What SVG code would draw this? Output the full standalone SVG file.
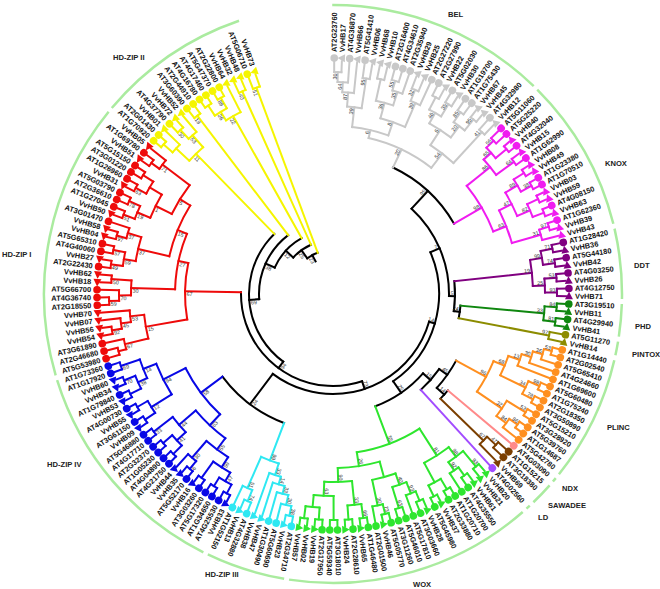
<svg xmlns="http://www.w3.org/2000/svg" width="660" height="589" viewBox="0 0 660 589">
<style>
.l{font:bold 7.4px "Liberation Sans",Arial,sans-serif;fill:#111;dominant-baseline:central}
.f{text-anchor:end}
.bs{font:5.4px "Liberation Sans",Arial,sans-serif;fill:#333;text-anchor:end;dominant-baseline:central}
.bs.r{text-anchor:start}
.gl{font:bold 7.6px "Liberation Sans",Arial,sans-serif;fill:#222}
#connectors{fill:none;stroke-width:2;stroke-linecap:square}
.oa{fill:none;stroke:#aaeb9f;stroke-width:2.5}
.gy{fill:#c8c8c8}.mg{fill:#f01cf0}.pu{fill:#800080}.dg{fill:#0f870f}.ol{fill:#8c8c00}.or{fill:#ff8f1f}.pk{fill:#ff8a8a}.br{fill:#7b3f00}.lv{fill:#a24cff}.gr{fill:#2ee62e}.cy{fill:#2ee8f2}.bl{fill:#0808e6}.rd{fill:#ee0a0a}.ye{fill:#f5f500}
</style>
<defs><circle id="c" r="3.8"/><path id="t" d="M0-4.4L4 3H-4Z"/></defs>
<rect width="660" height="589" fill="#fff"/>
<g id="clade-arcs" transform="translate(333 294)">
<circle class="oa" pathLength="360" r="289" stroke-dasharray="44.14 720" transform="rotate(-90.15)"/>
<circle class="oa" pathLength="360" r="289" stroke-dasharray="30.98 720" transform="rotate(-45.03)"/>
<circle class="oa" pathLength="360" r="289" stroke-dasharray="14.06 720" transform="rotate(-13.07)"/>
<circle class="oa" pathLength="360" r="289" stroke-dasharray="6.54 720" transform="rotate(1.97)"/>
<circle class="oa" pathLength="360" r="289" stroke-dasharray="2.78 720" transform="rotate(9.49)"/>
<circle class="oa" pathLength="360" r="289" stroke-dasharray="25.34 720" transform="rotate(13.25)"/>
<circle class="oa" pathLength="360" r="289" stroke-dasharray="0.9 720" transform="rotate(39.57)"/>
<circle class="oa" pathLength="360" r="289" stroke-dasharray="4.66 720" transform="rotate(41.45)"/>
<circle class="oa" pathLength="360" r="289" stroke-dasharray="0.9 720" transform="rotate(47.09)"/>
<circle class="oa" pathLength="360" r="289" stroke-dasharray="49.78 720" transform="rotate(48.97)"/>
<circle class="oa" pathLength="360" r="289" stroke-dasharray="15.94 720" transform="rotate(99.73)"/>
<circle class="oa" pathLength="360" r="289" stroke-dasharray="46.02 720" transform="rotate(116.65)"/>
<circle class="oa" pathLength="360" r="289" stroke-dasharray="55.42 720" transform="rotate(163.65)"/>
<circle class="oa" pathLength="360" r="289" stroke-dasharray="30.98 720" transform="rotate(220.05)"/>
</g>
<g id="clade-labels">
<text class="gl" x="448" y="17">BEL</text>
<text class="gl" x="605" y="166">KNOX</text>
<text class="gl" x="634" y="268">DDT</text>
<text class="gl" x="635" y="329">PHD</text>
<text class="gl" x="632" y="357">PINTOX</text>
<text class="gl" x="607" y="430">PLINC</text>
<text class="gl" x="562" y="491">NDX</text>
<text class="gl" x="548" y="508">SAWADEE</text>
<text class="gl" x="538" y="520">LD</text>
<text class="gl" x="413" y="587">WOX</text>
<text class="gl" x="205" y="577">HD-ZIP III</text>
<text class="gl" x="47" y="467">HD-ZIP IV</text>
<text class="gl" x="2" y="257">HD-ZIP I</text>
<text class="gl" x="113" y="60">HD-ZIP II</text>
</g>
<g id="connectors" transform="translate(333 294)">
<g stroke="#000">
<circle pathLength="360" r="140" stroke-dasharray="34.48 720" transform="rotate(-64.61)"/>
<circle pathLength="360" r="128" stroke-dasharray="5.64 720" transform="rotate(5.24)"/>
<circle pathLength="360" r="122" stroke-dasharray="14.10 720" transform="rotate(-6.04)"/>
<path transform="rotate(8.06)" d="M122 0H128"/>
<circle pathLength="360" r="116" stroke-dasharray="48.38 720" transform="rotate(-47.37)"/>
<path transform="rotate(-47.37)" d="M116 0H140"/>
<path transform="rotate(1.01)" d="M116 0H122"/>
<circle pathLength="360" r="150" stroke-dasharray="4.23 720" transform="rotate(40.02)"/>
<circle pathLength="360" r="140" stroke-dasharray="13.715 720" transform="rotate(28.42)"/>
<path transform="rotate(42.135)" d="M140 0H150"/>
<circle pathLength="360" r="130" stroke-dasharray="12.26 720" transform="rotate(35.28)"/>
<path transform="rotate(35.28)" d="M130 0H140"/>
<circle pathLength="360" r="120" stroke-dasharray="27.96 720" transform="rotate(41.41)"/>
<path transform="rotate(41.41)" d="M120 0H130"/>
<circle pathLength="360" r="106" stroke-dasharray="78.57 720" transform="rotate(-23.18)"/>
<path transform="rotate(-23.18)" d="M106 0H116"/>
<path transform="rotate(55.39)" d="M106 0H120"/>
<circle pathLength="360" r="138" stroke-dasharray="32.46 720" transform="rotate(110.78)"/>
<circle pathLength="360" r="100" stroke-dasharray="110.91 720" transform="rotate(16.10)"/>
<path transform="rotate(16.10)" d="M100 0H106"/>
<path transform="rotate(127.01)" d="M100 0H138"/>
<circle pathLength="360" r="92" stroke-dasharray="109.52 720" transform="rotate(71.56)"/>
<path transform="rotate(71.56)" d="M92 0H100"/>
<circle pathLength="360" r="84" stroke-dasharray="99.35 720" transform="rotate(126.32)"/>
<path transform="rotate(126.32)" d="M84 0H92"/>
<circle pathLength="360" r="74" stroke-dasharray="56.72 720" transform="rotate(176.0)"/>
<path transform="rotate(176.0)" d="M74 0H84"/>
<circle pathLength="360" r="64" stroke-dasharray="36.35 720" transform="rotate(204.36)"/>
<path transform="rotate(204.36)" d="M64 0H74"/>
<circle pathLength="360" r="54" stroke-dasharray="23.345 720" transform="rotate(222.535)"/>
<path transform="rotate(222.535)" d="M54 0H64"/>
<circle pathLength="360" r="44" stroke-dasharray="15.43 720" transform="rotate(234.21)"/>
<path transform="rotate(234.21)" d="M44 0H54"/>
<path transform="rotate(241.925)" d="M37 0H44"/>
</g>
<g stroke="#c8c8c8">
<circle pathLength="360" r="222" stroke-dasharray="1.88 720" transform="rotate(-89.70)"/>
<circle pathLength="360" r="212" stroke-dasharray="2.82 720" transform="rotate(-88.76)"/>
<circle pathLength="360" r="202" stroke-dasharray="3.29 720" transform="rotate(-87.35)"/>
<circle pathLength="360" r="218" stroke-dasharray="1.88 720" transform="rotate(-82.18)"/>
<circle pathLength="360" r="188" stroke-dasharray="4.465 720" transform="rotate(-85.705)"/>
<circle pathLength="360" r="220" stroke-dasharray="1.88 720" transform="rotate(-78.42)"/>
<circle pathLength="360" r="222" stroke-dasharray="1.88 720" transform="rotate(-74.66)"/>
<circle pathLength="360" r="212" stroke-dasharray="2.82 720" transform="rotate(-73.72)"/>
<circle pathLength="360" r="198" stroke-dasharray="5.17 720" transform="rotate(-77.48)"/>
<circle pathLength="360" r="220" stroke-dasharray="1.88 720" transform="rotate(-69.02)"/>
<circle pathLength="360" r="208" stroke-dasharray="2.82 720" transform="rotate(-68.08)"/>
<circle pathLength="360" r="182" stroke-dasharray="8.225 720" transform="rotate(-74.895)"/>
<circle pathLength="360" r="168" stroke-dasharray="12.69 720" transform="rotate(-83.4725)"/>
<circle pathLength="360" r="222" stroke-dasharray="1.88 720" transform="rotate(-63.38)"/>
<circle pathLength="360" r="222" stroke-dasharray="1.88 720" transform="rotate(-59.62)"/>
<circle pathLength="360" r="208" stroke-dasharray="3.76 720" transform="rotate(-62.44)"/>
<circle pathLength="360" r="222" stroke-dasharray="1.88 720" transform="rotate(-55.86)"/>
<circle pathLength="360" r="224" stroke-dasharray="1.88 720" transform="rotate(-52.10)"/>
<circle pathLength="360" r="210" stroke-dasharray="3.76 720" transform="rotate(-54.92)"/>
<circle pathLength="360" r="196" stroke-dasharray="7.52 720" transform="rotate(-60.56)"/>
<circle pathLength="360" r="220" stroke-dasharray="1.88 720" transform="rotate(-48.34)"/>
<circle pathLength="360" r="178" stroke-dasharray="9.40 720" transform="rotate(-56.80)"/>
<circle pathLength="360" r="160" stroke-dasharray="25.03 720" transform="rotate(-77.1275)"/>
<path transform="rotate(-89.70)" d="M222 0H233"/>
<path transform="rotate(-87.82)" d="M222 0H233"/>
<path transform="rotate(-88.76)" d="M212 0H222"/>
<path transform="rotate(-85.94)" d="M212 0H233"/>
<path transform="rotate(-87.35)" d="M202 0H212"/>
<path transform="rotate(-84.06)" d="M202 0H233"/>
<path transform="rotate(-82.18)" d="M218 0H233"/>
<path transform="rotate(-80.30)" d="M218 0H233"/>
<path transform="rotate(-85.705)" d="M188 0H202"/>
<path transform="rotate(-81.24)" d="M188 0H218"/>
<path transform="rotate(-78.42)" d="M220 0H233"/>
<path transform="rotate(-76.54)" d="M220 0H233"/>
<path transform="rotate(-74.66)" d="M222 0H233"/>
<path transform="rotate(-72.78)" d="M222 0H233"/>
<path transform="rotate(-73.72)" d="M212 0H222"/>
<path transform="rotate(-70.90)" d="M212 0H233"/>
<path transform="rotate(-77.48)" d="M198 0H220"/>
<path transform="rotate(-72.31)" d="M198 0H212"/>
<path transform="rotate(-69.02)" d="M220 0H233"/>
<path transform="rotate(-67.14)" d="M220 0H233"/>
<path transform="rotate(-68.08)" d="M208 0H220"/>
<path transform="rotate(-65.26)" d="M208 0H233"/>
<path transform="rotate(-74.895)" d="M182 0H198"/>
<path transform="rotate(-66.67)" d="M182 0H208"/>
<path transform="rotate(-83.4725)" d="M168 0H188"/>
<path transform="rotate(-70.7825)" d="M168 0H182"/>
<path transform="rotate(-63.38)" d="M222 0H233"/>
<path transform="rotate(-61.50)" d="M222 0H233"/>
<path transform="rotate(-59.62)" d="M222 0H233"/>
<path transform="rotate(-57.74)" d="M222 0H233"/>
<path transform="rotate(-62.44)" d="M208 0H222"/>
<path transform="rotate(-58.68)" d="M208 0H222"/>
<path transform="rotate(-55.86)" d="M222 0H233"/>
<path transform="rotate(-53.98)" d="M222 0H233"/>
<path transform="rotate(-52.10)" d="M224 0H233"/>
<path transform="rotate(-50.22)" d="M224 0H233"/>
<path transform="rotate(-54.92)" d="M210 0H222"/>
<path transform="rotate(-51.16)" d="M210 0H224"/>
<path transform="rotate(-60.56)" d="M196 0H208"/>
<path transform="rotate(-53.04)" d="M196 0H210"/>
<path transform="rotate(-48.34)" d="M220 0H233"/>
<path transform="rotate(-46.46)" d="M220 0H233"/>
<path transform="rotate(-56.80)" d="M178 0H196"/>
<path transform="rotate(-47.40)" d="M178 0H220"/>
<path transform="rotate(-77.1275)" d="M160 0H168"/>
<path transform="rotate(-52.10)" d="M160 0H178"/>
<path transform="rotate(-64.61)" d="M140 0H160"/>
</g>
<g stroke="#f01cf0">
<circle pathLength="360" r="222" stroke-dasharray="1.88 720" transform="rotate(-44.58)"/>
<circle pathLength="360" r="226" stroke-dasharray="1.88 720" transform="rotate(-40.82)"/>
<circle pathLength="360" r="212" stroke-dasharray="3.76 720" transform="rotate(-43.64)"/>
<circle pathLength="360" r="224" stroke-dasharray="1.88 720" transform="rotate(-37.06)"/>
<circle pathLength="360" r="202" stroke-dasharray="5.64 720" transform="rotate(-41.76)"/>
<circle pathLength="360" r="226" stroke-dasharray="1.88 720" transform="rotate(-33.30)"/>
<circle pathLength="360" r="226" stroke-dasharray="1.88 720" transform="rotate(-29.54)"/>
<circle pathLength="360" r="214" stroke-dasharray="3.76 720" transform="rotate(-32.36)"/>
<circle pathLength="360" r="226" stroke-dasharray="1.88 720" transform="rotate(-25.78)"/>
<circle pathLength="360" r="226" stroke-dasharray="1.88 720" transform="rotate(-22.02)"/>
<circle pathLength="360" r="214" stroke-dasharray="3.76 720" transform="rotate(-24.84)"/>
<circle pathLength="360" r="200" stroke-dasharray="7.52 720" transform="rotate(-30.48)"/>
<circle pathLength="360" r="226" stroke-dasharray="1.88 720" transform="rotate(-18.26)"/>
<circle pathLength="360" r="216" stroke-dasharray="2.82 720" transform="rotate(-17.32)"/>
<circle pathLength="360" r="186" stroke-dasharray="10.81 720" transform="rotate(-26.72)"/>
<circle pathLength="360" r="172" stroke-dasharray="17.625 720" transform="rotate(-38.94)"/>
<path transform="rotate(-44.58)" d="M222 0H233"/>
<path transform="rotate(-42.70)" d="M222 0H233"/>
<path transform="rotate(-40.82)" d="M226 0H233"/>
<path transform="rotate(-38.94)" d="M226 0H233"/>
<path transform="rotate(-43.64)" d="M212 0H222"/>
<path transform="rotate(-39.88)" d="M212 0H226"/>
<path transform="rotate(-37.06)" d="M224 0H233"/>
<path transform="rotate(-35.18)" d="M224 0H233"/>
<path transform="rotate(-41.76)" d="M202 0H212"/>
<path transform="rotate(-36.12)" d="M202 0H224"/>
<path transform="rotate(-33.30)" d="M226 0H233"/>
<path transform="rotate(-31.42)" d="M226 0H233"/>
<path transform="rotate(-29.54)" d="M226 0H233"/>
<path transform="rotate(-27.66)" d="M226 0H233"/>
<path transform="rotate(-32.36)" d="M214 0H226"/>
<path transform="rotate(-28.60)" d="M214 0H226"/>
<path transform="rotate(-25.78)" d="M226 0H233"/>
<path transform="rotate(-23.90)" d="M226 0H233"/>
<path transform="rotate(-22.02)" d="M226 0H233"/>
<path transform="rotate(-20.14)" d="M226 0H233"/>
<path transform="rotate(-24.84)" d="M214 0H226"/>
<path transform="rotate(-21.08)" d="M214 0H226"/>
<path transform="rotate(-30.48)" d="M200 0H214"/>
<path transform="rotate(-22.96)" d="M200 0H214"/>
<path transform="rotate(-18.26)" d="M226 0H233"/>
<path transform="rotate(-16.38)" d="M226 0H233"/>
<path transform="rotate(-17.32)" d="M216 0H226"/>
<path transform="rotate(-14.50)" d="M216 0H233"/>
<path transform="rotate(-26.72)" d="M186 0H200"/>
<path transform="rotate(-15.91)" d="M186 0H216"/>
<path transform="rotate(-38.94)" d="M172 0H202"/>
<path transform="rotate(-21.315)" d="M172 0H186"/>
<path transform="rotate(-30.13)" d="M140 0H172"/>
</g>
<g stroke="#800080">
<circle pathLength="360" r="224" stroke-dasharray="1.88 720" transform="rotate(-12.62)"/>
<circle pathLength="360" r="224" stroke-dasharray="1.88 720" transform="rotate(-8.86)"/>
<circle pathLength="360" r="212" stroke-dasharray="3.76 720" transform="rotate(-11.68)"/>
<circle pathLength="360" r="224" stroke-dasharray="1.88 720" transform="rotate(-5.10)"/>
<circle pathLength="360" r="224" stroke-dasharray="1.88 720" transform="rotate(-1.34)"/>
<circle pathLength="360" r="212" stroke-dasharray="3.76 720" transform="rotate(-4.16)"/>
<circle pathLength="360" r="200" stroke-dasharray="7.52 720" transform="rotate(-9.80)"/>
<path transform="rotate(-12.62)" d="M224 0H233"/>
<path transform="rotate(-10.74)" d="M224 0H233"/>
<path transform="rotate(-8.86)" d="M224 0H233"/>
<path transform="rotate(-6.98)" d="M224 0H233"/>
<path transform="rotate(-5.10)" d="M224 0H233"/>
<path transform="rotate(-3.22)" d="M224 0H233"/>
<path transform="rotate(-1.34)" d="M224 0H233"/>
<path transform="rotate(0.54)" d="M224 0H233"/>
<path transform="rotate(-11.68)" d="M212 0H224"/>
<path transform="rotate(-7.92)" d="M212 0H224"/>
<path transform="rotate(-4.16)" d="M212 0H224"/>
<path transform="rotate(-0.40)" d="M212 0H224"/>
<path transform="rotate(-9.80)" d="M200 0H212"/>
<path transform="rotate(-2.28)" d="M200 0H212"/>
<path transform="rotate(-6.04)" d="M122 0H200"/>
</g>
<g stroke="#0f870f">
<circle pathLength="360" r="224" stroke-dasharray="1.88 720" transform="rotate(2.42)"/>
<circle pathLength="360" r="224" stroke-dasharray="1.88 720" transform="rotate(6.18)"/>
<circle pathLength="360" r="212" stroke-dasharray="3.76 720" transform="rotate(3.36)"/>
<path transform="rotate(2.42)" d="M224 0H233"/>
<path transform="rotate(4.30)" d="M224 0H233"/>
<path transform="rotate(6.18)" d="M224 0H233"/>
<path transform="rotate(8.06)" d="M224 0H233"/>
<path transform="rotate(3.36)" d="M212 0H224"/>
<path transform="rotate(7.12)" d="M212 0H224"/>
<path transform="rotate(5.24)" d="M128 0H212"/>
</g>
<g stroke="#8c8c00">
<circle pathLength="360" r="220" stroke-dasharray="1.88 720" transform="rotate(9.94)"/>
<path transform="rotate(9.94)" d="M220 0H233"/>
<path transform="rotate(11.82)" d="M220 0H233"/>
<path transform="rotate(10.88)" d="M128 0H220"/>
</g>
<g stroke="#ff8f1f">
<circle pathLength="360" r="226" stroke-dasharray="1.88 720" transform="rotate(13.70)"/>
<circle pathLength="360" r="218" stroke-dasharray="2.82 720" transform="rotate(14.64)"/>
<circle pathLength="360" r="208" stroke-dasharray="3.29 720" transform="rotate(16.05)"/>
<circle pathLength="360" r="198" stroke-dasharray="3.525 720" transform="rotate(17.695)"/>
<circle pathLength="360" r="226" stroke-dasharray="1.88 720" transform="rotate(23.10)"/>
<circle pathLength="360" r="226" stroke-dasharray="1.88 720" transform="rotate(26.86)"/>
<circle pathLength="360" r="214" stroke-dasharray="3.76 720" transform="rotate(24.04)"/>
<circle pathLength="360" r="186" stroke-dasharray="6.4625 720" transform="rotate(19.4575)"/>
<circle pathLength="360" r="226" stroke-dasharray="1.88 720" transform="rotate(30.62)"/>
<circle pathLength="360" r="226" stroke-dasharray="1.88 720" transform="rotate(34.38)"/>
<circle pathLength="360" r="216" stroke-dasharray="2.82 720" transform="rotate(35.32)"/>
<circle pathLength="360" r="204" stroke-dasharray="5.17 720" transform="rotate(31.56)"/>
<circle pathLength="360" r="174" stroke-dasharray="11.455 720" transform="rotate(22.69)"/>
<path transform="rotate(13.70)" d="M226 0H233"/>
<path transform="rotate(15.58)" d="M226 0H233"/>
<path transform="rotate(14.64)" d="M218 0H226"/>
<path transform="rotate(17.46)" d="M218 0H233"/>
<path transform="rotate(16.05)" d="M208 0H218"/>
<path transform="rotate(19.34)" d="M208 0H233"/>
<path transform="rotate(17.695)" d="M198 0H208"/>
<path transform="rotate(21.22)" d="M198 0H233"/>
<path transform="rotate(23.10)" d="M226 0H233"/>
<path transform="rotate(24.98)" d="M226 0H233"/>
<path transform="rotate(26.86)" d="M226 0H233"/>
<path transform="rotate(28.74)" d="M226 0H233"/>
<path transform="rotate(24.04)" d="M214 0H226"/>
<path transform="rotate(27.80)" d="M214 0H226"/>
<path transform="rotate(19.4575)" d="M186 0H198"/>
<path transform="rotate(25.92)" d="M186 0H214"/>
<path transform="rotate(30.62)" d="M226 0H233"/>
<path transform="rotate(32.50)" d="M226 0H233"/>
<path transform="rotate(34.38)" d="M226 0H233"/>
<path transform="rotate(36.26)" d="M226 0H233"/>
<path transform="rotate(35.32)" d="M216 0H226"/>
<path transform="rotate(38.14)" d="M216 0H233"/>
<path transform="rotate(31.56)" d="M204 0H226"/>
<path transform="rotate(36.73)" d="M204 0H216"/>
<path transform="rotate(22.69)" d="M174 0H186"/>
<path transform="rotate(34.145)" d="M174 0H204"/>
<path transform="rotate(28.42)" d="M140 0H174"/>
</g>
<g stroke="#ff8a8a"><path transform="rotate(40.02)" d="M150 0H233"/></g>
<g stroke="#7b3f00">
<circle pathLength="360" r="222" stroke-dasharray="1.88 720" transform="rotate(41.90)"/>
<circle pathLength="360" r="210" stroke-dasharray="2.82 720" transform="rotate(42.84)"/>
<path transform="rotate(41.90)" d="M222 0H233"/>
<path transform="rotate(43.78)" d="M222 0H233"/>
<path transform="rotate(42.84)" d="M210 0H222"/>
<path transform="rotate(45.66)" d="M210 0H233"/>
<path transform="rotate(44.25)" d="M150 0H210"/>
</g>
<g stroke="#a24cff"><path transform="rotate(47.54)" d="M130 0H233"/></g>
<g stroke="#2ee62e">
<circle pathLength="360" r="224" stroke-dasharray="1.88 720" transform="rotate(49.42)"/>
<circle pathLength="360" r="224" stroke-dasharray="1.88 720" transform="rotate(53.18)"/>
<circle pathLength="360" r="214" stroke-dasharray="2.82 720" transform="rotate(54.12)"/>
<circle pathLength="360" r="204" stroke-dasharray="5.17 720" transform="rotate(50.36)"/>
<circle pathLength="360" r="226" stroke-dasharray="1.88 720" transform="rotate(58.82)"/>
<circle pathLength="360" r="226" stroke-dasharray="1.88 720" transform="rotate(62.58)"/>
<circle pathLength="360" r="214" stroke-dasharray="3.76 720" transform="rotate(59.76)"/>
<circle pathLength="360" r="192" stroke-dasharray="8.695 720" transform="rotate(52.945)"/>
<circle pathLength="360" r="224" stroke-dasharray="1.88 720" transform="rotate(66.34)"/>
<circle pathLength="360" r="214" stroke-dasharray="2.82 720" transform="rotate(67.28)"/>
<circle pathLength="360" r="224" stroke-dasharray="1.88 720" transform="rotate(71.98)"/>
<circle pathLength="360" r="202" stroke-dasharray="4.23 720" transform="rotate(68.69)"/>
<circle pathLength="360" r="226" stroke-dasharray="1.88 720" transform="rotate(75.74)"/>
<circle pathLength="360" r="216" stroke-dasharray="2.82 720" transform="rotate(76.68)"/>
<circle pathLength="360" r="190" stroke-dasharray="7.285 720" transform="rotate(70.805)"/>
<circle pathLength="360" r="226" stroke-dasharray="1.88 720" transform="rotate(81.38)"/>
<circle pathLength="360" r="226" stroke-dasharray="1.88 720" transform="rotate(85.14)"/>
<circle pathLength="360" r="212" stroke-dasharray="3.76 720" transform="rotate(82.32)"/>
<circle pathLength="360" r="226" stroke-dasharray="1.88 720" transform="rotate(88.90)"/>
<circle pathLength="360" r="226" stroke-dasharray="1.88 720" transform="rotate(92.66)"/>
<circle pathLength="360" r="226" stroke-dasharray="1.88 720" transform="rotate(96.42)"/>
<circle pathLength="360" r="214" stroke-dasharray="3.76 720" transform="rotate(93.60)"/>
<circle pathLength="360" r="202" stroke-dasharray="5.64 720" transform="rotate(89.84)"/>
<circle pathLength="360" r="188" stroke-dasharray="8.46 720" transform="rotate(84.20)"/>
<circle pathLength="360" r="174" stroke-dasharray="13.98 720" transform="rotate(74.4475)"/>
<circle pathLength="360" r="160" stroke-dasharray="24.146 720" transform="rotate(57.2925)"/>
<path transform="rotate(49.42)" d="M224 0H233"/>
<path transform="rotate(51.30)" d="M224 0H233"/>
<path transform="rotate(53.18)" d="M224 0H233"/>
<path transform="rotate(55.06)" d="M224 0H233"/>
<path transform="rotate(54.12)" d="M214 0H224"/>
<path transform="rotate(56.94)" d="M214 0H233"/>
<path transform="rotate(50.36)" d="M204 0H224"/>
<path transform="rotate(55.53)" d="M204 0H214"/>
<path transform="rotate(58.82)" d="M226 0H233"/>
<path transform="rotate(60.70)" d="M226 0H233"/>
<path transform="rotate(62.58)" d="M226 0H233"/>
<path transform="rotate(64.46)" d="M226 0H233"/>
<path transform="rotate(59.76)" d="M214 0H226"/>
<path transform="rotate(63.52)" d="M214 0H226"/>
<path transform="rotate(52.945)" d="M192 0H204"/>
<path transform="rotate(61.64)" d="M192 0H214"/>
<path transform="rotate(66.34)" d="M224 0H233"/>
<path transform="rotate(68.22)" d="M224 0H233"/>
<path transform="rotate(67.28)" d="M214 0H224"/>
<path transform="rotate(70.10)" d="M214 0H233"/>
<path transform="rotate(71.98)" d="M224 0H233"/>
<path transform="rotate(73.86)" d="M224 0H233"/>
<path transform="rotate(68.69)" d="M202 0H214"/>
<path transform="rotate(72.92)" d="M202 0H224"/>
<path transform="rotate(75.74)" d="M226 0H233"/>
<path transform="rotate(77.62)" d="M226 0H233"/>
<path transform="rotate(76.68)" d="M216 0H226"/>
<path transform="rotate(79.50)" d="M216 0H233"/>
<path transform="rotate(70.805)" d="M190 0H202"/>
<path transform="rotate(78.09)" d="M190 0H216"/>
<path transform="rotate(81.38)" d="M226 0H233"/>
<path transform="rotate(83.26)" d="M226 0H233"/>
<path transform="rotate(85.14)" d="M226 0H233"/>
<path transform="rotate(87.02)" d="M226 0H233"/>
<path transform="rotate(82.32)" d="M212 0H226"/>
<path transform="rotate(86.08)" d="M212 0H226"/>
<path transform="rotate(88.90)" d="M226 0H233"/>
<path transform="rotate(90.78)" d="M226 0H233"/>
<path transform="rotate(92.66)" d="M226 0H233"/>
<path transform="rotate(94.54)" d="M226 0H233"/>
<path transform="rotate(96.42)" d="M226 0H233"/>
<path transform="rotate(98.30)" d="M226 0H233"/>
<path transform="rotate(93.60)" d="M214 0H226"/>
<path transform="rotate(97.36)" d="M214 0H226"/>
<path transform="rotate(89.84)" d="M202 0H226"/>
<path transform="rotate(95.48)" d="M202 0H214"/>
<path transform="rotate(84.20)" d="M188 0H212"/>
<path transform="rotate(92.66)" d="M188 0H202"/>
<path transform="rotate(74.4475)" d="M174 0H190"/>
<path transform="rotate(88.43)" d="M174 0H188"/>
<path transform="rotate(57.2925)" d="M160 0H192"/>
<path transform="rotate(81.44)" d="M160 0H174"/>
<path transform="rotate(69.37)" d="M120 0H160"/>
</g>
<g stroke="#2ee8f2">
<circle pathLength="360" r="226" stroke-dasharray="1.88 720" transform="rotate(100.18)"/>
<circle pathLength="360" r="216" stroke-dasharray="2.82 720" transform="rotate(101.12)"/>
<circle pathLength="360" r="206" stroke-dasharray="3.29 720" transform="rotate(102.53)"/>
<circle pathLength="360" r="198" stroke-dasharray="3.525 720" transform="rotate(104.175)"/>
<circle pathLength="360" r="190" stroke-dasharray="3.6425 720" transform="rotate(105.9375)"/>
<circle pathLength="360" r="224" stroke-dasharray="1.88 720" transform="rotate(111.46)"/>
<circle pathLength="360" r="212" stroke-dasharray="2.82 720" transform="rotate(112.40)"/>
<circle pathLength="360" r="178" stroke-dasharray="6.051 720" transform="rotate(107.759)"/>
<path transform="rotate(100.18)" d="M226 0H233"/>
<path transform="rotate(102.06)" d="M226 0H233"/>
<path transform="rotate(101.12)" d="M216 0H226"/>
<path transform="rotate(103.94)" d="M216 0H233"/>
<path transform="rotate(102.53)" d="M206 0H216"/>
<path transform="rotate(105.82)" d="M206 0H233"/>
<path transform="rotate(104.175)" d="M198 0H206"/>
<path transform="rotate(107.70)" d="M198 0H233"/>
<path transform="rotate(105.9375)" d="M190 0H198"/>
<path transform="rotate(109.58)" d="M190 0H233"/>
<path transform="rotate(111.46)" d="M224 0H233"/>
<path transform="rotate(113.34)" d="M224 0H233"/>
<path transform="rotate(112.40)" d="M212 0H224"/>
<path transform="rotate(115.22)" d="M212 0H233"/>
<path transform="rotate(107.759)" d="M178 0H190"/>
<path transform="rotate(113.81)" d="M178 0H212"/>
<path transform="rotate(110.78)" d="M138 0H178"/>
</g>
<g stroke="#0808e6">
<circle pathLength="360" r="226" stroke-dasharray="1.88 720" transform="rotate(117.10)"/>
<circle pathLength="360" r="226" stroke-dasharray="1.88 720" transform="rotate(120.86)"/>
<circle pathLength="360" r="216" stroke-dasharray="3.76 720" transform="rotate(118.04)"/>
<circle pathLength="360" r="226" stroke-dasharray="1.88 720" transform="rotate(124.62)"/>
<circle pathLength="360" r="206" stroke-dasharray="5.64 720" transform="rotate(119.92)"/>
<circle pathLength="360" r="226" stroke-dasharray="1.88 720" transform="rotate(128.38)"/>
<circle pathLength="360" r="216" stroke-dasharray="2.82 720" transform="rotate(129.32)"/>
<circle pathLength="360" r="194" stroke-dasharray="7.99 720" transform="rotate(122.74)"/>
<circle pathLength="360" r="226" stroke-dasharray="1.88 720" transform="rotate(134.02)"/>
<circle pathLength="360" r="226" stroke-dasharray="1.88 720" transform="rotate(137.78)"/>
<circle pathLength="360" r="214" stroke-dasharray="3.76 720" transform="rotate(134.96)"/>
<circle pathLength="360" r="226" stroke-dasharray="1.88 720" transform="rotate(141.54)"/>
<circle pathLength="360" r="202" stroke-dasharray="5.64 720" transform="rotate(136.84)"/>
<circle pathLength="360" r="180" stroke-dasharray="12.925 720" transform="rotate(126.735)"/>
<circle pathLength="360" r="226" stroke-dasharray="1.88 720" transform="rotate(145.30)"/>
<circle pathLength="360" r="226" stroke-dasharray="1.88 720" transform="rotate(149.06)"/>
<circle pathLength="360" r="214" stroke-dasharray="3.76 720" transform="rotate(146.24)"/>
<circle pathLength="360" r="226" stroke-dasharray="1.88 720" transform="rotate(152.82)"/>
<circle pathLength="360" r="226" stroke-dasharray="1.88 720" transform="rotate(156.58)"/>
<circle pathLength="360" r="214" stroke-dasharray="3.76 720" transform="rotate(153.76)"/>
<circle pathLength="360" r="224" stroke-dasharray="1.88 720" transform="rotate(160.34)"/>
<circle pathLength="360" r="204" stroke-dasharray="5.64 720" transform="rotate(155.64)"/>
<circle pathLength="360" r="190" stroke-dasharray="10.34 720" transform="rotate(148.12)"/>
<circle pathLength="360" r="165" stroke-dasharray="20.09 720" transform="rotate(133.1975)"/>
<path transform="rotate(117.10)" d="M226 0H233"/>
<path transform="rotate(118.98)" d="M226 0H233"/>
<path transform="rotate(120.86)" d="M226 0H233"/>
<path transform="rotate(122.74)" d="M226 0H233"/>
<path transform="rotate(118.04)" d="M216 0H226"/>
<path transform="rotate(121.80)" d="M216 0H226"/>
<path transform="rotate(124.62)" d="M226 0H233"/>
<path transform="rotate(126.50)" d="M226 0H233"/>
<path transform="rotate(119.92)" d="M206 0H216"/>
<path transform="rotate(125.56)" d="M206 0H226"/>
<path transform="rotate(128.38)" d="M226 0H233"/>
<path transform="rotate(130.26)" d="M226 0H233"/>
<path transform="rotate(129.32)" d="M216 0H226"/>
<path transform="rotate(132.14)" d="M216 0H233"/>
<path transform="rotate(122.74)" d="M194 0H206"/>
<path transform="rotate(130.73)" d="M194 0H216"/>
<path transform="rotate(134.02)" d="M226 0H233"/>
<path transform="rotate(135.90)" d="M226 0H233"/>
<path transform="rotate(137.78)" d="M226 0H233"/>
<path transform="rotate(139.66)" d="M226 0H233"/>
<path transform="rotate(134.96)" d="M214 0H226"/>
<path transform="rotate(138.72)" d="M214 0H226"/>
<path transform="rotate(141.54)" d="M226 0H233"/>
<path transform="rotate(143.42)" d="M226 0H233"/>
<path transform="rotate(136.84)" d="M202 0H214"/>
<path transform="rotate(142.48)" d="M202 0H226"/>
<path transform="rotate(126.735)" d="M180 0H194"/>
<path transform="rotate(139.66)" d="M180 0H202"/>
<path transform="rotate(145.30)" d="M226 0H233"/>
<path transform="rotate(147.18)" d="M226 0H233"/>
<path transform="rotate(149.06)" d="M226 0H233"/>
<path transform="rotate(150.94)" d="M226 0H233"/>
<path transform="rotate(152.82)" d="M226 0H233"/>
<path transform="rotate(154.70)" d="M226 0H233"/>
<path transform="rotate(156.58)" d="M226 0H233"/>
<path transform="rotate(158.46)" d="M226 0H233"/>
<path transform="rotate(146.24)" d="M214 0H226"/>
<path transform="rotate(150.00)" d="M214 0H226"/>
<path transform="rotate(153.76)" d="M214 0H226"/>
<path transform="rotate(157.52)" d="M214 0H226"/>
<path transform="rotate(160.34)" d="M224 0H233"/>
<path transform="rotate(162.22)" d="M224 0H233"/>
<path transform="rotate(155.64)" d="M204 0H214"/>
<path transform="rotate(161.28)" d="M204 0H224"/>
<path transform="rotate(148.12)" d="M190 0H214"/>
<path transform="rotate(158.46)" d="M190 0H204"/>
<path transform="rotate(133.1975)" d="M165 0H180"/>
<path transform="rotate(153.29)" d="M165 0H190"/>
<path transform="rotate(143.24)" d="M138 0H165"/>
</g>
<g stroke="#ee0a0a">
<circle pathLength="360" r="222" stroke-dasharray="1.88 720" transform="rotate(164.10)"/>
<circle pathLength="360" r="214" stroke-dasharray="2.82 720" transform="rotate(165.04)"/>
<circle pathLength="360" r="224" stroke-dasharray="1.88 720" transform="rotate(169.74)"/>
<circle pathLength="360" r="214" stroke-dasharray="2.82 720" transform="rotate(170.68)"/>
<circle pathLength="360" r="204" stroke-dasharray="3.29 720" transform="rotate(172.09)"/>
<circle pathLength="360" r="190" stroke-dasharray="7.285 720" transform="rotate(166.45)"/>
<circle pathLength="360" r="224" stroke-dasharray="1.88 720" transform="rotate(177.26)"/>
<circle pathLength="360" r="214" stroke-dasharray="2.82 720" transform="rotate(178.20)"/>
<circle pathLength="360" r="222" stroke-dasharray="1.88 720" transform="rotate(182.90)"/>
<circle pathLength="360" r="202" stroke-dasharray="4.23 720" transform="rotate(179.61)"/>
<circle pathLength="360" r="224" stroke-dasharray="1.88 720" transform="rotate(186.66)"/>
<circle pathLength="360" r="224" stroke-dasharray="1.88 720" transform="rotate(190.42)"/>
<circle pathLength="360" r="212" stroke-dasharray="3.76 720" transform="rotate(187.60)"/>
<circle pathLength="360" r="224" stroke-dasharray="1.88 720" transform="rotate(194.18)"/>
<circle pathLength="360" r="214" stroke-dasharray="2.82 720" transform="rotate(195.12)"/>
<circle pathLength="360" r="200" stroke-dasharray="7.05 720" transform="rotate(189.48)"/>
<circle pathLength="360" r="224" stroke-dasharray="1.88 720" transform="rotate(199.82)"/>
<circle pathLength="360" r="224" stroke-dasharray="1.88 720" transform="rotate(203.58)"/>
<circle pathLength="360" r="212" stroke-dasharray="3.76 720" transform="rotate(200.76)"/>
<circle pathLength="360" r="224" stroke-dasharray="1.88 720" transform="rotate(207.34)"/>
<circle pathLength="360" r="224" stroke-dasharray="1.88 720" transform="rotate(211.10)"/>
<circle pathLength="360" r="212" stroke-dasharray="3.76 720" transform="rotate(208.28)"/>
<circle pathLength="360" r="198" stroke-dasharray="7.52 720" transform="rotate(202.64)"/>
<circle pathLength="360" r="224" stroke-dasharray="1.88 720" transform="rotate(214.86)"/>
<circle pathLength="360" r="214" stroke-dasharray="2.82 720" transform="rotate(215.80)"/>
<circle pathLength="360" r="180" stroke-dasharray="10.81 720" transform="rotate(206.40)"/>
<circle pathLength="360" r="168" stroke-dasharray="18.80 720" transform="rotate(193.005)"/>
<circle pathLength="360" r="158" stroke-dasharray="20.68 720" transform="rotate(181.725)"/>
<circle pathLength="360" r="148" stroke-dasharray="21.9725 720" transform="rotate(170.0925)"/>
<path transform="rotate(164.10)" d="M222 0H233"/>
<path transform="rotate(165.98)" d="M222 0H233"/>
<path transform="rotate(165.04)" d="M214 0H222"/>
<path transform="rotate(167.86)" d="M214 0H233"/>
<path transform="rotate(169.74)" d="M224 0H233"/>
<path transform="rotate(171.62)" d="M224 0H233"/>
<path transform="rotate(170.68)" d="M214 0H224"/>
<path transform="rotate(173.50)" d="M214 0H233"/>
<path transform="rotate(172.09)" d="M204 0H214"/>
<path transform="rotate(175.38)" d="M204 0H233"/>
<path transform="rotate(166.45)" d="M190 0H214"/>
<path transform="rotate(173.735)" d="M190 0H204"/>
<path transform="rotate(177.26)" d="M224 0H233"/>
<path transform="rotate(179.14)" d="M224 0H233"/>
<path transform="rotate(178.20)" d="M214 0H224"/>
<path transform="rotate(181.02)" d="M214 0H233"/>
<path transform="rotate(182.90)" d="M222 0H233"/>
<path transform="rotate(184.78)" d="M222 0H233"/>
<path transform="rotate(179.61)" d="M202 0H214"/>
<path transform="rotate(183.84)" d="M202 0H222"/>
<path transform="rotate(186.66)" d="M224 0H233"/>
<path transform="rotate(188.54)" d="M224 0H233"/>
<path transform="rotate(190.42)" d="M224 0H233"/>
<path transform="rotate(192.30)" d="M224 0H233"/>
<path transform="rotate(187.60)" d="M212 0H224"/>
<path transform="rotate(191.36)" d="M212 0H224"/>
<path transform="rotate(194.18)" d="M224 0H233"/>
<path transform="rotate(196.06)" d="M224 0H233"/>
<path transform="rotate(195.12)" d="M214 0H224"/>
<path transform="rotate(197.94)" d="M214 0H233"/>
<path transform="rotate(189.48)" d="M200 0H212"/>
<path transform="rotate(196.53)" d="M200 0H214"/>
<path transform="rotate(199.82)" d="M224 0H233"/>
<path transform="rotate(201.70)" d="M224 0H233"/>
<path transform="rotate(203.58)" d="M224 0H233"/>
<path transform="rotate(205.46)" d="M224 0H233"/>
<path transform="rotate(207.34)" d="M224 0H233"/>
<path transform="rotate(209.22)" d="M224 0H233"/>
<path transform="rotate(211.10)" d="M224 0H233"/>
<path transform="rotate(212.98)" d="M224 0H233"/>
<path transform="rotate(200.76)" d="M212 0H224"/>
<path transform="rotate(204.52)" d="M212 0H224"/>
<path transform="rotate(208.28)" d="M212 0H224"/>
<path transform="rotate(212.04)" d="M212 0H224"/>
<path transform="rotate(202.64)" d="M198 0H212"/>
<path transform="rotate(210.16)" d="M198 0H212"/>
<path transform="rotate(214.86)" d="M224 0H233"/>
<path transform="rotate(216.74)" d="M224 0H233"/>
<path transform="rotate(215.80)" d="M214 0H224"/>
<path transform="rotate(218.62)" d="M214 0H233"/>
<path transform="rotate(206.40)" d="M180 0H198"/>
<path transform="rotate(217.21)" d="M180 0H214"/>
<path transform="rotate(193.005)" d="M168 0H200"/>
<path transform="rotate(211.805)" d="M168 0H180"/>
<path transform="rotate(181.725)" d="M158 0H202"/>
<path transform="rotate(202.405)" d="M158 0H168"/>
<path transform="rotate(170.0925)" d="M148 0H190"/>
<path transform="rotate(192.065)" d="M148 0H158"/>
<path transform="rotate(181.08)" d="M92 0H148"/>
</g>
<g stroke="#f5f500">
<circle pathLength="360" r="226" stroke-dasharray="1.88 720" transform="rotate(220.50)"/>
<circle pathLength="360" r="214" stroke-dasharray="2.82 720" transform="rotate(221.44)"/>
<circle pathLength="360" r="224" stroke-dasharray="1.88 720" transform="rotate(226.14)"/>
<circle pathLength="360" r="212" stroke-dasharray="2.82 720" transform="rotate(227.08)"/>
<circle pathLength="360" r="196" stroke-dasharray="5.64 720" transform="rotate(222.85)"/>
<circle pathLength="360" r="224" stroke-dasharray="1.88 720" transform="rotate(231.78)"/>
<circle pathLength="360" r="226" stroke-dasharray="1.88 720" transform="rotate(235.54)"/>
<circle pathLength="360" r="226" stroke-dasharray="1.88 720" transform="rotate(239.30)"/>
<circle pathLength="360" r="214" stroke-dasharray="3.76 720" transform="rotate(236.48)"/>
<circle pathLength="360" r="204" stroke-dasharray="4.70 720" transform="rotate(238.36)"/>
<circle pathLength="360" r="222" stroke-dasharray="1.88 720" transform="rotate(244.94)"/>
<circle pathLength="360" r="220" stroke-dasharray="1.88 720" transform="rotate(248.70)"/>
<path transform="rotate(220.50)" d="M226 0H233"/>
<path transform="rotate(222.38)" d="M226 0H233"/>
<path transform="rotate(221.44)" d="M214 0H226"/>
<path transform="rotate(224.26)" d="M214 0H233"/>
<path transform="rotate(226.14)" d="M224 0H233"/>
<path transform="rotate(228.02)" d="M224 0H233"/>
<path transform="rotate(227.08)" d="M212 0H224"/>
<path transform="rotate(229.90)" d="M212 0H233"/>
<path transform="rotate(222.85)" d="M196 0H214"/>
<path transform="rotate(228.49)" d="M196 0H212"/>
<path transform="rotate(231.78)" d="M224 0H233"/>
<path transform="rotate(233.66)" d="M224 0H233"/>
<path transform="rotate(235.54)" d="M226 0H233"/>
<path transform="rotate(237.42)" d="M226 0H233"/>
<path transform="rotate(239.30)" d="M226 0H233"/>
<path transform="rotate(241.18)" d="M226 0H233"/>
<path transform="rotate(236.48)" d="M214 0H226"/>
<path transform="rotate(240.24)" d="M214 0H226"/>
<path transform="rotate(238.36)" d="M204 0H214"/>
<path transform="rotate(243.06)" d="M204 0H233"/>
<path transform="rotate(244.94)" d="M222 0H233"/>
<path transform="rotate(246.82)" d="M222 0H233"/>
<path transform="rotate(248.70)" d="M220 0H233"/>
<path transform="rotate(250.58)" d="M220 0H233"/>
<path transform="rotate(225.67)" d="M84 0H196"/>
<path transform="rotate(232.72)" d="M74 0H224"/>
<path transform="rotate(240.71)" d="M64 0H204"/>
<path transform="rotate(245.88)" d="M54 0H222"/>
<path transform="rotate(249.64)" d="M44 0H220"/>
</g>
</g>
<g id="bootstrap" transform="translate(333 294)">
<text class="bs" transform="rotate(-88.76) translate(220.5 -2.8)">30</text>
<text class="bs" transform="rotate(-87.35) translate(210.5 -2.8)">64</text>
<text class="bs" transform="rotate(-85.705) translate(200.5 -2.8)">87</text>
<text class="bs" transform="rotate(-81.24) translate(216.5 -2.8)">95</text>
<text class="bs" transform="rotate(-83.47) translate(186.5 -2.8)">39</text>
<text class="bs" transform="rotate(-73.72) translate(220.5 -2.8)">55</text>
<text class="bs" transform="rotate(-72.31) translate(210.5 -2.8)">35</text>
<text class="bs" transform="rotate(-74.895) translate(196.5 -2.8)">36</text>
<text class="bs" transform="rotate(-68.08) translate(218.5 -2.8)">32</text>
<text class="bs" transform="rotate(-66.67) translate(206.5 -2.8)">39</text>
<text class="bs" transform="rotate(-70.78) translate(180.5 -2.8)">8</text>
<text class="bs" transform="rotate(-77.13) translate(166.5 -2.8)">6</text>
<text class="bs" transform="rotate(-60.56) translate(206.5 -2.8)">46</text>
<text class="bs" transform="rotate(-58.68) translate(220.5 -2.8)">35</text>
<text class="bs" transform="rotate(-54.92) translate(220.5 -2.8)">85</text>
<text class="bs" transform="rotate(-51.16) translate(222.5 -2.8)">95</text>
<text class="bs" transform="rotate(-53.04) translate(208.5 -2.8)">20</text>
<text class="bs" transform="rotate(-56.8) translate(194.5 -2.8)">6</text>
<text class="bs" transform="rotate(-47.4) translate(218.5 -2.8)">41</text>
<text class="bs" transform="rotate(-52.1) translate(176.5 -2.8)">54</text>
<text class="bs" transform="rotate(-64.61) translate(158.5 -2.8)">20</text>
<text class="bs" transform="rotate(-47.37) translate(138.5 -2.8)">95</text>
<text class="bs" transform="rotate(-43.64) translate(220.5 -2.8)">56</text>
<text class="bs" transform="rotate(-41.76) translate(210.5 -2.8)">65</text>
<text class="bs" transform="rotate(-36.12) translate(222.5 -2.8)">64</text>
<text class="bs" transform="rotate(-38.94) translate(200.5 -2.8)">86</text>
<text class="bs" transform="rotate(-30.48) translate(212.5 -2.8)">89</text>
<text class="bs" transform="rotate(-28.60) translate(224.5 -2.8)">38</text>
<text class="bs" transform="rotate(-22.96) translate(212.5 -2.8)">82</text>
<text class="bs" transform="rotate(-26.72) translate(198.5 -2.8)">47</text>
<text class="bs" transform="rotate(-17.32) translate(224.5 -2.8)">97</text>
<text class="bs" transform="rotate(-15.91) translate(214.5 -2.8)">31</text>
<text class="bs" transform="rotate(-21.315) translate(184.5 -2.8)">63</text>
<text class="bs" transform="rotate(-30.13) translate(170.5 -2.8)">98</text>
<text class="bs" transform="rotate(-11.68) translate(222.5 -2.8)">71</text>
<text class="bs" transform="rotate(-7.92) translate(222.5 -2.8)">74</text>
<text class="bs" transform="rotate(-9.80) translate(210.5 -2.8)">99</text>
<text class="bs" transform="rotate(-4.16) translate(222.5 -2.8)">53</text>
<text class="bs" transform="rotate(-0.40) translate(222.5 -2.8)">93</text>
<text class="bs" transform="rotate(-2.28) translate(210.5 -2.8)">25</text>
<text class="bs" transform="rotate(-6.04) translate(198.5 -2.8)">19</text>
<text class="bs" transform="rotate(3.36) translate(222.5 -2.8)">84</text>
<text class="bs" transform="rotate(7.12) translate(222.5 -2.8)">81</text>
<text class="bs" transform="rotate(5.24) translate(210.5 -2.8)">33</text>
<text class="bs" transform="rotate(10.88) translate(218.5 -2.8)">97</text>
<text class="bs" transform="rotate(-23.18) translate(114.5 -2.8)">7</text>
<text class="bs" transform="rotate(1.01) translate(120.5 -2.8)">5</text>
<text class="bs" transform="rotate(8.06) translate(126.5 -2.8)">24</text>
<text class="bs" transform="rotate(16.10) translate(104.5 -2.8)">14</text>
<text class="bs" transform="rotate(14.64) translate(224.5 -2.8)">53</text>
<text class="bs" transform="rotate(16.05) translate(216.5 -2.8)">36</text>
<text class="bs" transform="rotate(17.695) translate(206.5 -2.8)">30</text>
<text class="bs" transform="rotate(19.4575) translate(196.5 -2.8)">13</text>
<text class="bs" transform="rotate(24.04) translate(224.5 -2.8)">98</text>
<text class="bs" transform="rotate(27.80) translate(224.5 -2.8)">78</text>
<text class="bs" transform="rotate(25.92) translate(212.5 -2.8)">34</text>
<text class="bs" transform="rotate(22.69) translate(184.5 -2.8)">68</text>
<text class="bs" transform="rotate(31.56) translate(224.5 -2.8)">53</text>
<text class="bs" transform="rotate(35.32) translate(224.5 -2.8)">86</text>
<text class="bs" transform="rotate(36.73) translate(214.5 -2.8)">84</text>
<text class="bs" transform="rotate(34.145) translate(202.5 -2.8)">32</text>
<text class="bs" transform="rotate(28.42) translate(172.5 -2.8)">96</text>
<text class="bs" transform="rotate(35.28) translate(138.5 -2.8)">45</text>
<text class="bs" transform="rotate(42.135) translate(148.5 -2.8)">14</text>
<text class="bs" transform="rotate(42.84) translate(220.5 -2.8)">47</text>
<text class="bs" transform="rotate(44.25) translate(208.5 -2.8)">67</text>
<text class="bs" transform="rotate(41.41) translate(128.5 -2.8)">15</text>
<text class="bs" transform="rotate(55.39) translate(118.5 -2.8)">25</text>
<text class="bs" transform="rotate(50.36) translate(222.5 -2.8)">93</text>
<text class="bs" transform="rotate(55.53) translate(212.5 -2.8)">92</text>
<text class="bs" transform="rotate(52.945) translate(202.5 -2.8)">98</text>
<text class="bs" transform="rotate(57.29) translate(190.5 -2.8)">81</text>
<text class="bs" transform="rotate(68.69) translate(212.5 -2.8)">93</text>
<text class="bs" transform="rotate(70.805) translate(200.5 -2.8)">40</text>
<text class="bs" transform="rotate(72.92) translate(222.5 -2.8)">63</text>
<text class="bs" transform="rotate(76.68) translate(224.5 -2.8)">73</text>
<text class="bs" transform="rotate(78.09) translate(214.5 -2.8)">30</text>
<text class="bs" transform="rotate(82.32) translate(224.5 -2.8)">66</text>
<text class="bs" transform="rotate(84.20) translate(210.5 -2.8)">33</text>
<text class="bs" transform="rotate(92.66) translate(200.5 -2.8)">63</text>
<text class="bs" transform="rotate(88.43) translate(186.5 -2.8)">90</text>
<text class="bs" transform="rotate(81.44) translate(172.5 -2.8)">26</text>
<text class="bs" transform="rotate(69.37) translate(158.5 -2.8)">55</text>
<text class="bs" transform="rotate(101.12) translate(224.5 -2.8)">38</text>
<text class="bs" transform="rotate(102.53) translate(214.5 -2.8)">30</text>
<text class="bs" transform="rotate(104.175) translate(204.5 -2.8)">33</text>
<text class="bs" transform="rotate(105.94) translate(196.5 -2.8)">14</text>
<text class="bs" transform="rotate(107.76) translate(188.5 -2.8)">33</text>
<text class="bs" transform="rotate(112.40) translate(222.5 -2.8)">74</text>
<text class="bs" transform="rotate(113.81) translate(210.5 -2.8)">51</text>
<text class="bs" transform="rotate(110.78) translate(176.5 -2.8)">99</text>
<text class="bs" transform="rotate(71.56) translate(98.5 -2.8)">73</text>
<text class="bs r" transform="rotate(127.01) translate(136.5 -2.8) rotate(180)">24</text>
<text class="bs r" transform="rotate(126.32) translate(90.5 -2.8) rotate(180)">94</text>
<text class="bs r" transform="rotate(119.92) translate(214.5 -2.8) rotate(180)">47</text>
<text class="bs r" transform="rotate(122.74) translate(204.5 -2.8) rotate(180)">59</text>
<text class="bs r" transform="rotate(126.735) translate(192.5 -2.8) rotate(180)">55</text>
<text class="bs r" transform="rotate(129.32) translate(224.5 -2.8) rotate(180)">6</text>
<text class="bs r" transform="rotate(130.73) translate(214.5 -2.8) rotate(180)">30</text>
<text class="bs r" transform="rotate(136.84) translate(212.5 -2.8) rotate(180)">41</text>
<text class="bs r" transform="rotate(139.66) translate(200.5 -2.8) rotate(180)">44</text>
<text class="bs r" transform="rotate(142.48) translate(224.5 -2.8) rotate(180)">33</text>
<text class="bs r" transform="rotate(133.20) translate(178.5 -2.8) rotate(180)">63</text>
<text class="bs r" transform="rotate(148.12) translate(212.5 -2.8) rotate(180)">12</text>
<text class="bs r" transform="rotate(155.64) translate(212.5 -2.8) rotate(180)">38</text>
<text class="bs r" transform="rotate(157.52) translate(224.5 -2.8) rotate(180)">70</text>
<text class="bs r" transform="rotate(161.28) translate(222.5 -2.8) rotate(180)">69</text>
<text class="bs r" transform="rotate(158.46) translate(202.5 -2.8) rotate(180)">14</text>
<text class="bs r" transform="rotate(153.29) translate(188.5 -2.8) rotate(180)">94</text>
<text class="bs r" transform="rotate(143.24) translate(163.5 -2.8) rotate(180)">58</text>
<text class="bs r" transform="rotate(166.45) translate(212.5 -2.8) rotate(180)">67</text>
<text class="bs r" transform="rotate(170.68) translate(222.5 -2.8) rotate(180)">92</text>
<text class="bs r" transform="rotate(172.09) translate(212.5 -2.8) rotate(180)">45</text>
<text class="bs r" transform="rotate(173.735) translate(202.5 -2.8) rotate(180)">53</text>
<text class="bs r" transform="rotate(170.09) translate(188.5 -2.8) rotate(180)">15</text>
<text class="bs r" transform="rotate(178.20) translate(222.5 -2.8) rotate(180)">59</text>
<text class="bs r" transform="rotate(179.61) translate(212.5 -2.8) rotate(180)">70</text>
<text class="bs r" transform="rotate(183.84) translate(220.5 -2.8) rotate(180)">50</text>
<text class="bs r" transform="rotate(181.725) translate(200.5 -2.8) rotate(180)">30</text>
<text class="bs r" transform="rotate(192.065) translate(156.5 -2.8) rotate(180)">27</text>
<text class="bs r" transform="rotate(187.60) translate(222.5 -2.8) rotate(180)">49</text>
<text class="bs r" transform="rotate(191.36) translate(222.5 -2.8) rotate(180)">57</text>
<text class="bs r" transform="rotate(189.48) translate(210.5 -2.8) rotate(180)">59</text>
<text class="bs r" transform="rotate(195.12) translate(222.5 -2.8) rotate(180)">97</text>
<text class="bs r" transform="rotate(196.53) translate(212.5 -2.8) rotate(180)">37</text>
<text class="bs r" transform="rotate(193.005) translate(198.5 -2.8) rotate(180)">37</text>
<text class="bs r" transform="rotate(200.76) translate(222.5 -2.8) rotate(180)">51</text>
<text class="bs r" transform="rotate(204.52) translate(222.5 -2.8) rotate(180)">78</text>
<text class="bs r" transform="rotate(202.64) translate(210.5 -2.8) rotate(180)">19</text>
<text class="bs r" transform="rotate(208.28) translate(222.5 -2.8) rotate(180)">63</text>
<text class="bs r" transform="rotate(206.40) translate(196.5 -2.8) rotate(180)">1</text>
<text class="bs r" transform="rotate(217.21) translate(212.5 -2.8) rotate(180)">71</text>
<text class="bs r" transform="rotate(211.805) translate(178.5 -2.8) rotate(180)">5</text>
<text class="bs r" transform="rotate(202.405) translate(166.5 -2.8) rotate(180)">15</text>
<text class="bs r" transform="rotate(181.08) translate(146.5 -2.8) rotate(180)">67</text>
<text class="bs r" transform="rotate(176.0) translate(82.5 -2.8) rotate(180)">69</text>
<text class="bs r" transform="rotate(204.36) translate(72.5 -2.8) rotate(180)">38</text>
<text class="bs r" transform="rotate(222.535) translate(62.5 -2.8) rotate(180)">12</text>
<text class="bs r" transform="rotate(234.21) translate(52.5 -2.8) rotate(180)">25</text>
<text class="bs r" transform="rotate(241.925) translate(42.5 -2.8) rotate(180)">23</text>
<text class="bs r" transform="rotate(227.08) translate(222.5 -2.8) rotate(180)">30</text>
<text class="bs r" transform="rotate(228.49) translate(210.5 -2.8) rotate(180)">53</text>
<text class="bs r" transform="rotate(225.67) translate(194.5 -2.8) rotate(180)">11</text>
<text class="bs r" transform="rotate(232.72) translate(222.5 -2.8) rotate(180)">19</text>
<text class="bs r" transform="rotate(240.24) translate(224.5 -2.8) rotate(180)">89</text>
<text class="bs r" transform="rotate(238.36) translate(212.5 -2.8) rotate(180)">26</text>
<text class="bs r" transform="rotate(240.71) translate(202.5 -2.8) rotate(180)">22</text>
<text class="bs r" transform="rotate(245.88) translate(220.5 -2.8) rotate(180)">40</text>
<text class="bs r" transform="rotate(249.64) translate(218.5 -2.8) rotate(180)">51</text>
</g>
<g id="leaves" transform="translate(333 294)">
<g id="leaf-AT2G23760" class="gy" transform="rotate(-89.70)"><use href="#c" x="236"/><text class="l" x="242">AT2G23760</text></g>
<g id="leaf-VvHB17" class="gy" transform="rotate(-87.82)"><use href="#t" x="236"/><text class="l" x="242">VvHB17</text></g>
<g id="leaf-AT4G36870" class="gy" transform="rotate(-85.94)"><use href="#c" x="236"/><text class="l" x="242">AT4G36870</text></g>
<g id="leaf-VvHB66" class="gy" transform="rotate(-84.06)"><use href="#t" x="236"/><text class="l" x="242">VvHB66</text></g>
<g id="leaf-AT5G41410" class="gy" transform="rotate(-82.18)"><use href="#c" x="236"/><text class="l" x="242">AT5G41410</text></g>
<g id="leaf-VvHB06" class="gy" transform="rotate(-80.30)"><use href="#t" x="236"/><text class="l" x="242">VvHB06</text></g>
<g id="leaf-VvHB68" class="gy" transform="rotate(-78.42)"><use href="#t" x="236"/><text class="l" x="242">VvHB68</text></g>
<g id="leaf-VvHB10" class="gy" transform="rotate(-76.54)"><use href="#t" x="236"/><text class="l" x="242">VvHB10</text></g>
<g id="leaf-AT2G16400" class="gy" transform="rotate(-74.66)"><use href="#c" x="236"/><text class="l" x="242">AT2G16400</text></g>
<g id="leaf-AT4G34610" class="gy" transform="rotate(-72.78)"><use href="#c" x="236"/><text class="l" x="242">AT4G34610</text></g>
<g id="leaf-AT2G35940" class="gy" transform="rotate(-70.90)"><use href="#c" x="236"/><text class="l" x="242">AT2G35940</text></g>
<g id="leaf-VvHB29" class="gy" transform="rotate(-69.02)"><use href="#t" x="236"/><text class="l" x="242">VvHB29</text></g>
<g id="leaf-VvHB25" class="gy" transform="rotate(-67.14)"><use href="#t" x="236"/><text class="l" x="242">VvHB25</text></g>
<g id="leaf-AT2G27220" class="gy" transform="rotate(-65.26)"><use href="#c" x="236"/><text class="l" x="242">AT2G27220</text></g>
<g id="leaf-AT2G27990" class="gy" transform="rotate(-63.38)"><use href="#c" x="236"/><text class="l" x="242">AT2G27990</text></g>
<g id="leaf-VvHB22" class="gy" transform="rotate(-61.50)"><use href="#t" x="236"/><text class="l" x="242">VvHB22</text></g>
<g id="leaf-AT5G02030" class="gy" transform="rotate(-59.62)"><use href="#c" x="236"/><text class="l" x="242">AT5G02030</text></g>
<g id="leaf-VvHB30" class="gy" transform="rotate(-57.74)"><use href="#t" x="236"/><text class="l" x="242">VvHB30</text></g>
<g id="leaf-AT1G19700" class="gy" transform="rotate(-55.86)"><use href="#c" x="236"/><text class="l" x="242">AT1G19700</text></g>
<g id="leaf-AT1G75430" class="gy" transform="rotate(-53.98)"><use href="#c" x="236"/><text class="l" x="242">AT1G75430</text></g>
<g id="leaf-VvHB67" class="gy" transform="rotate(-52.10)"><use href="#t" x="236"/><text class="l" x="242">VvHB67</text></g>
<g id="leaf-VvHB45" class="gy" transform="rotate(-50.22)"><use href="#t" x="236"/><text class="l" x="242">VvHB45</text></g>
<g id="leaf-AT4G32980" class="gy" transform="rotate(-48.34)"><use href="#c" x="236"/><text class="l" x="242">AT4G32980</text></g>
<g id="leaf-VvHB12" class="gy" transform="rotate(-46.46)"><use href="#t" x="236"/><text class="l" x="242">VvHB12</text></g>
<g id="leaf-AT5G11060" class="mg" transform="rotate(-44.58)"><use href="#c" x="236"/><text class="l" x="242">AT5G11060</text></g>
<g id="leaf-AT5G25220" class="mg" transform="rotate(-42.70)"><use href="#c" x="236"/><text class="l" x="242">AT5G25220</text></g>
<g id="leaf-VvHB40" class="mg" transform="rotate(-40.82)"><use href="#t" x="236"/><text class="l" x="242">VvHB40</text></g>
<g id="leaf-AT4G32040" class="mg" transform="rotate(-38.94)"><use href="#c" x="236"/><text class="l" x="242">AT4G32040</text></g>
<g id="leaf-VvHB15" class="mg" transform="rotate(-37.06)"><use href="#t" x="236"/><text class="l" x="242">VvHB15</text></g>
<g id="leaf-AT1G62990" class="mg" transform="rotate(-35.18)"><use href="#c" x="236"/><text class="l" x="242">AT1G62990</text></g>
<g id="leaf-VvHB08" class="mg" transform="rotate(-33.30)"><use href="#t" x="236"/><text class="l" x="242">VvHB08</text></g>
<g id="leaf-VvHB49" class="mg" transform="rotate(-31.42)"><use href="#t" x="236"/><text class="l" x="242">VvHB49</text></g>
<g id="leaf-AT1G23380" class="mg" transform="rotate(-29.54)"><use href="#c" x="236"/><text class="l" x="242">AT1G23380</text></g>
<g id="leaf-AT1G70510" class="mg" transform="rotate(-27.66)"><use href="#c" x="236"/><text class="l" x="242">AT1G70510</text></g>
<g id="leaf-VvHB03" class="mg" transform="rotate(-25.78)"><use href="#t" x="236"/><text class="l" x="242">VvHB03</text></g>
<g id="leaf-VvHB59" class="mg" transform="rotate(-23.90)"><use href="#t" x="236"/><text class="l" x="242">VvHB59</text></g>
<g id="leaf-AT4G08150" class="mg" transform="rotate(-22.02)"><use href="#c" x="236"/><text class="l" x="242">AT4G08150</text></g>
<g id="leaf-VvHB63" class="mg" transform="rotate(-20.14)"><use href="#t" x="236"/><text class="l" x="242">VvHB63</text></g>
<g id="leaf-AT1G62360" class="mg" transform="rotate(-18.26)"><use href="#c" x="236"/><text class="l" x="242">AT1G62360</text></g>
<g id="leaf-VvHB39" class="mg" transform="rotate(-16.38)"><use href="#t" x="236"/><text class="l" x="242">VvHB39</text></g>
<g id="leaf-VvHB43" class="mg" transform="rotate(-14.50)"><use href="#t" x="236"/><text class="l" x="242">VvHB43</text></g>
<g id="leaf-AT1G28420" class="pu" transform="rotate(-12.62)"><use href="#c" x="236"/><text class="l" x="242">AT1G28420</text></g>
<g id="leaf-VvHB36" class="pu" transform="rotate(-10.74)"><use href="#t" x="236"/><text class="l" x="242">VvHB36</text></g>
<g id="leaf-AT5G44180" class="pu" transform="rotate(-8.86)"><use href="#c" x="236"/><text class="l" x="242">AT5G44180</text></g>
<g id="leaf-VvHB42" class="pu" transform="rotate(-6.98)"><use href="#t" x="236"/><text class="l" x="242">VvHB42</text></g>
<g id="leaf-AT4G03250" class="pu" transform="rotate(-5.10)"><use href="#c" x="236"/><text class="l" x="242">AT4G03250</text></g>
<g id="leaf-VvHB26" class="pu" transform="rotate(-3.22)"><use href="#t" x="236"/><text class="l" x="242">VvHB26</text></g>
<g id="leaf-AT4G12750" class="pu" transform="rotate(-1.34)"><use href="#c" x="236"/><text class="l" x="242">AT4G12750</text></g>
<g id="leaf-VvHB71" class="pu" transform="rotate(0.54)"><use href="#t" x="236"/><text class="l" x="242">VvHB71</text></g>
<g id="leaf-AT3G19510" class="dg" transform="rotate(2.42)"><use href="#c" x="236"/><text class="l" x="242">AT3G19510</text></g>
<g id="leaf-VvHB11" class="dg" transform="rotate(4.30)"><use href="#t" x="236"/><text class="l" x="242">VvHB11</text></g>
<g id="leaf-AT4G29940" class="dg" transform="rotate(6.18)"><use href="#c" x="236"/><text class="l" x="242">AT4G29940</text></g>
<g id="leaf-VvHB41" class="dg" transform="rotate(8.06)"><use href="#t" x="236"/><text class="l" x="242">VvHB41</text></g>
<g id="leaf-AT5G11270" class="ol" transform="rotate(9.94)"><use href="#c" x="236"/><text class="l" x="242">AT5G11270</text></g>
<g id="leaf-VvHB14" class="ol" transform="rotate(11.82)"><use href="#t" x="236"/><text class="l" x="242">VvHB14</text></g>
<g id="leaf-AT1G14440" class="or" transform="rotate(13.70)"><use href="#c" x="236"/><text class="l" x="242">AT1G14440</text></g>
<g id="leaf-AT2G02540" class="or" transform="rotate(15.58)"><use href="#c" x="236"/><text class="l" x="242">AT2G02540</text></g>
<g id="leaf-AT5G65410" class="or" transform="rotate(17.46)"><use href="#c" x="236"/><text class="l" x="242">AT5G65410</text></g>
<g id="leaf-AT4G24660" class="or" transform="rotate(19.34)"><use href="#c" x="236"/><text class="l" x="242">AT4G24660</text></g>
<g id="leaf-AT1G69600" class="or" transform="rotate(21.22)"><use href="#c" x="236"/><text class="l" x="242">AT1G69600</text></g>
<g id="leaf-AT5G60480" class="or" transform="rotate(23.10)"><use href="#c" x="236"/><text class="l" x="242">AT5G60480</text></g>
<g id="leaf-AT1G75240" class="or" transform="rotate(24.98)"><use href="#c" x="236"/><text class="l" x="242">AT1G75240</text></g>
<g id="leaf-AT2G18350" class="or" transform="rotate(26.86)"><use href="#c" x="236"/><text class="l" x="242">AT2G18350</text></g>
<g id="leaf-AT3G50890" class="or" transform="rotate(28.74)"><use href="#c" x="236"/><text class="l" x="242">AT3G50890</text></g>
<g id="leaf-AT5G15210" class="or" transform="rotate(30.62)"><use href="#c" x="236"/><text class="l" x="242">AT5G15210</text></g>
<g id="leaf-AT3G28920" class="or" transform="rotate(32.50)"><use href="#c" x="236"/><text class="l" x="242">AT3G28920</text></g>
<g id="leaf-AT5G39760" class="or" transform="rotate(34.38)"><use href="#c" x="236"/><text class="l" x="242">AT5G39760</text></g>
<g id="leaf-AT1G14687" class="or" transform="rotate(36.26)"><use href="#c" x="236"/><text class="l" x="242">AT1G14687</text></g>
<g id="leaf-AT5G42780" class="or" transform="rotate(38.14)"><use href="#c" x="236"/><text class="l" x="242">AT5G42780</text></g>
<g id="leaf-AT4G03090" class="pk" transform="rotate(40.02)"><use href="#c" x="236"/><text class="l" x="242">AT4G03090</text></g>
<g id="leaf-AT1G15215" class="br" transform="rotate(41.90)"><use href="#c" x="236"/><text class="l" x="242">AT1G15215</text></g>
<g id="leaf-AT3G18380" class="br" transform="rotate(43.78)"><use href="#c" x="236"/><text class="l" x="242">AT3G18380</text></g>
<g id="leaf-VvHB69" class="br" transform="rotate(45.66)"><use href="#t" x="236"/><text class="l" x="242">VvHB69</text></g>
<g id="leaf-AT4G02560" class="lv" transform="rotate(47.54)"><use href="#c" x="236"/><text class="l" x="242">AT4G02560</text></g>
<g id="leaf-VvHB20" class="gr" transform="rotate(49.42)"><use href="#t" x="236"/><text class="l" x="242">VvHB20</text></g>
<g id="leaf-VvHB21" class="gr" transform="rotate(51.30)"><use href="#t" x="236"/><text class="l" x="242">VvHB21</text></g>
<g id="leaf-VvHB61" class="gr" transform="rotate(53.18)"><use href="#t" x="236"/><text class="l" x="242">VvHB61</text></g>
<g id="leaf-AT4G35550" class="gr" transform="rotate(55.06)"><use href="#c" x="236"/><text class="l" x="242">AT4G35550</text></g>
<g id="leaf-AT1G20700" class="gr" transform="rotate(56.94)"><use href="#c" x="236"/><text class="l" x="242">AT1G20700</text></g>
<g id="leaf-AT1G20710" class="gr" transform="rotate(58.82)"><use href="#c" x="236"/><text class="l" x="242">AT1G20710</text></g>
<g id="leaf-AT2G33880" class="gr" transform="rotate(60.70)"><use href="#c" x="236"/><text class="l" x="242">AT2G33880</text></g>
<g id="leaf-VvHB37" class="gr" transform="rotate(62.58)"><use href="#t" x="236"/><text class="l" x="242">VvHB37</text></g>
<g id="leaf-AT5G45980" class="gr" transform="rotate(64.46)"><use href="#c" x="236"/><text class="l" x="242">AT5G45980</text></g>
<g id="leaf-VvHB28" class="gr" transform="rotate(66.34)"><use href="#t" x="236"/><text class="l" x="242">VvHB28</text></g>
<g id="leaf-AT3G03660" class="gr" transform="rotate(68.22)"><use href="#c" x="236"/><text class="l" x="242">AT3G03660</text></g>
<g id="leaf-AT5G17810" class="gr" transform="rotate(70.10)"><use href="#c" x="236"/><text class="l" x="242">AT5G17810</text></g>
<g id="leaf-AT5G46010" class="gr" transform="rotate(71.98)"><use href="#c" x="236"/><text class="l" x="242">AT5G46010</text></g>
<g id="leaf-AT3G11260" class="gr" transform="rotate(73.86)"><use href="#c" x="236"/><text class="l" x="242">AT3G11260</text></g>
<g id="leaf-AT5G05770" class="gr" transform="rotate(75.74)"><use href="#c" x="236"/><text class="l" x="242">AT5G05770</text></g>
<g id="leaf-VvHB46" class="gr" transform="rotate(77.62)"><use href="#t" x="236"/><text class="l" x="242">VvHB46</text></g>
<g id="leaf-AT2G01500" class="gr" transform="rotate(79.50)"><use href="#c" x="236"/><text class="l" x="242">AT2G01500</text></g>
<g id="leaf-AT1G46480" class="gr" transform="rotate(81.38)"><use href="#c" x="236"/><text class="l" x="242">AT1G46480</text></g>
<g id="leaf-VvHB65" class="gr" transform="rotate(83.26)"><use href="#t" x="236"/><text class="l" x="242">VvHB65</text></g>
<g id="leaf-AT2G28610" class="gr" transform="rotate(85.14)"><use href="#c" x="236"/><text class="l" x="242">AT2G28610</text></g>
<g id="leaf-VvHB24" class="gr" transform="rotate(87.02)"><use href="#t" x="236"/><text class="l" x="242">VvHB24</text></g>
<g id="leaf-AT3G18010" class="gr" transform="rotate(88.90)"><use href="#c" x="236"/><text class="l" x="242">AT3G18010</text></g>
<g id="leaf-AT5G59340" class="gr" transform="rotate(90.78)"><use href="#c" x="236"/><text class="l" x="242">AT5G59340</text></g>
<g id="leaf-AT2G17950" class="gr" transform="rotate(92.66)"><use href="#c" x="236"/><text class="l" x="242">AT2G17950</text></g>
<g id="leaf-VvHB19" class="gr" transform="rotate(94.54)"><use href="#t" x="236"/><text class="l" x="242">VvHB19</text></g>
<g id="leaf-VvHB02" class="gr" transform="rotate(96.42)"><use href="#t" x="236"/><text class="l" x="242">VvHB02</text></g>
<g id="leaf-VvHB57" class="gr" transform="rotate(98.30)"><use href="#t" x="236"/><text class="l" x="242">VvHB57</text></g>
<g id="leaf-AT2G34710" class="cy" transform="rotate(100.18)"><use href="#c" x="236"/><text class="l" x="242">AT2G34710</text></g>
<g id="leaf-VvHB23" class="cy" transform="rotate(102.06)"><use href="#t" x="236"/><text class="l" x="242">VvHB23</text></g>
<g id="leaf-AT5G60690" class="cy" transform="rotate(103.94)"><use href="#c" x="236"/><text class="l" x="242">AT5G60690</text></g>
<g id="leaf-AT1G30490" class="cy" transform="rotate(105.82)"><use href="#c" x="236"/><text class="l" x="242">AT1G30490</text></g>
<g id="leaf-VvHB47" class="cy" transform="rotate(107.70)"><use href="#t" x="236"/><text class="l" x="242">VvHB47</text></g>
<g id="leaf-VvHB38" class="cy" transform="rotate(109.58)"><use href="#t" x="236"/><text class="l" x="242">VvHB38</text></g>
<g id="leaf-AT4G32880" class="cy" transform="rotate(111.46)"><use href="#c" x="236"/><text class="l" x="242">AT4G32880</text></g>
<g id="leaf-VvHB13" class="cy" transform="rotate(113.34)"><use href="#t" x="236"/><text class="l" x="242">VvHB13</text></g>
<g id="leaf-AT1G52150" class="cy" transform="rotate(115.22)"><use href="#c" x="236"/><text class="l" x="242">AT1G52150</text></g>
<g id="leaf-VvHB33" class="bl" transform="rotate(117.10)"><use href="#t" x="236"/><text class="l f" x="242" transform="rotate(180 242 0)">VvHB33</text></g>
<g id="leaf-AT4G25530" class="bl" transform="rotate(118.98)"><use href="#c" x="236"/><text class="l f" x="242" transform="rotate(180 242 0)">AT4G25530</text></g>
<g id="leaf-AT1G34650" class="bl" transform="rotate(120.86)"><use href="#c" x="236"/><text class="l f" x="242" transform="rotate(180 242 0)">AT1G34650</text></g>
<g id="leaf-AT5G17320" class="bl" transform="rotate(122.74)"><use href="#c" x="236"/><text class="l f" x="242" transform="rotate(180 242 0)">AT5G17320</text></g>
<g id="leaf-AT3G03260" class="bl" transform="rotate(124.62)"><use href="#c" x="236"/><text class="l f" x="242" transform="rotate(180 242 0)">AT3G03260</text></g>
<g id="leaf-VvHB16" class="bl" transform="rotate(126.50)"><use href="#t" x="236"/><text class="l f" x="242" transform="rotate(180 242 0)">VvHB16</text></g>
<g id="leaf-AT5G52170" class="bl" transform="rotate(128.38)"><use href="#c" x="236"/><text class="l f" x="242" transform="rotate(180 242 0)">AT5G52170</text></g>
<g id="leaf-VvHB35" class="bl" transform="rotate(130.26)"><use href="#t" x="236"/><text class="l f" x="242" transform="rotate(180 242 0)">VvHB35</text></g>
<g id="leaf-VvHB44" class="bl" transform="rotate(132.14)"><use href="#t" x="236"/><text class="l f" x="242" transform="rotate(180 242 0)">VvHB44</text></g>
<g id="leaf-AT4G21750" class="bl" transform="rotate(134.02)"><use href="#c" x="236"/><text class="l f" x="242" transform="rotate(180 242 0)">AT4G21750</text></g>
<g id="leaf-AT4G04890" class="bl" transform="rotate(135.90)"><use href="#c" x="236"/><text class="l f" x="242" transform="rotate(180 242 0)">AT4G04890</text></g>
<g id="leaf-AT1G05230" class="bl" transform="rotate(137.78)"><use href="#c" x="236"/><text class="l f" x="242" transform="rotate(180 242 0)">AT1G05230</text></g>
<g id="leaf-AT2G32370" class="bl" transform="rotate(139.66)"><use href="#c" x="236"/><text class="l f" x="242" transform="rotate(180 242 0)">AT2G32370</text></g>
<g id="leaf-AT4G17710" class="bl" transform="rotate(141.54)"><use href="#c" x="236"/><text class="l f" x="242" transform="rotate(180 242 0)">AT4G17710</text></g>
<g id="leaf-AT5G46880" class="bl" transform="rotate(143.42)"><use href="#c" x="236"/><text class="l f" x="242" transform="rotate(180 242 0)">AT5G46880</text></g>
<g id="leaf-VvHB09" class="bl" transform="rotate(145.30)"><use href="#t" x="236"/><text class="l f" x="242" transform="rotate(180 242 0)">VvHB09</text></g>
<g id="leaf-AT3G61150" class="bl" transform="rotate(147.18)"><use href="#c" x="236"/><text class="l f" x="242" transform="rotate(180 242 0)">AT3G61150</text></g>
<g id="leaf-VvHB55" class="bl" transform="rotate(149.06)"><use href="#t" x="236"/><text class="l f" x="242" transform="rotate(180 242 0)">VvHB55</text></g>
<g id="leaf-AT4G00730" class="bl" transform="rotate(150.94)"><use href="#c" x="236"/><text class="l f" x="242" transform="rotate(180 242 0)">AT4G00730</text></g>
<g id="leaf-VvHB53" class="bl" transform="rotate(152.82)"><use href="#t" x="236"/><text class="l f" x="242" transform="rotate(180 242 0)">VvHB53</text></g>
<g id="leaf-AT1G79840" class="bl" transform="rotate(154.70)"><use href="#c" x="236"/><text class="l f" x="242" transform="rotate(180 242 0)">AT1G79840</text></g>
<g id="leaf-VvHB34" class="bl" transform="rotate(156.58)"><use href="#t" x="236"/><text class="l f" x="242" transform="rotate(180 242 0)">VvHB34</text></g>
<g id="leaf-VvHB60" class="bl" transform="rotate(158.46)"><use href="#t" x="236"/><text class="l f" x="242" transform="rotate(180 242 0)">VvHB60</text></g>
<g id="leaf-AT1G17920" class="bl" transform="rotate(160.34)"><use href="#c" x="236"/><text class="l f" x="242" transform="rotate(180 242 0)">AT1G17920</text></g>
<g id="leaf-AT1G73360" class="bl" transform="rotate(162.22)"><use href="#c" x="236"/><text class="l f" x="242" transform="rotate(180 242 0)">AT1G73360</text></g>
<g id="leaf-AT5G53980" class="rd" transform="rotate(164.10)"><use href="#c" x="236"/><text class="l f" x="242" transform="rotate(180 242 0)">AT5G53980</text></g>
<g id="leaf-AT2G46680" class="rd" transform="rotate(165.98)"><use href="#c" x="236"/><text class="l f" x="242" transform="rotate(180 242 0)">AT2G46680</text></g>
<g id="leaf-AT3G61890" class="rd" transform="rotate(167.86)"><use href="#c" x="236"/><text class="l f" x="242" transform="rotate(180 242 0)">AT3G61890</text></g>
<g id="leaf-VvHB54" class="rd" transform="rotate(169.74)"><use href="#t" x="236"/><text class="l f" x="242" transform="rotate(180 242 0)">VvHB54</text></g>
<g id="leaf-VvHB56" class="rd" transform="rotate(171.62)"><use href="#t" x="236"/><text class="l f" x="242" transform="rotate(180 242 0)">VvHB56</text></g>
<g id="leaf-VvHB07" class="rd" transform="rotate(173.50)"><use href="#t" x="236"/><text class="l f" x="242" transform="rotate(180 242 0)">VvHB07</text></g>
<g id="leaf-VvHB70" class="rd" transform="rotate(175.38)"><use href="#t" x="236"/><text class="l f" x="242" transform="rotate(180 242 0)">VvHB70</text></g>
<g id="leaf-AT2G18550" class="rd" transform="rotate(177.26)"><use href="#c" x="236"/><text class="l f" x="242" transform="rotate(180 242 0)">AT2G18550</text></g>
<g id="leaf-AT4G36740" class="rd" transform="rotate(179.14)"><use href="#c" x="236"/><text class="l f" x="242" transform="rotate(180 242 0)">AT4G36740</text></g>
<g id="leaf-AT5G66700" class="rd" transform="rotate(181.02)"><use href="#c" x="236"/><text class="l f" x="242" transform="rotate(180 242 0)">AT5G66700</text></g>
<g id="leaf-VvHB18" class="rd" transform="rotate(182.90)"><use href="#t" x="236"/><text class="l f" x="242" transform="rotate(180 242 0)">VvHB18</text></g>
<g id="leaf-VvHB62" class="rd" transform="rotate(184.78)"><use href="#t" x="236"/><text class="l f" x="242" transform="rotate(180 242 0)">VvHB62</text></g>
<g id="leaf-AT2G22430" class="rd" transform="rotate(186.66)"><use href="#c" x="236"/><text class="l f" x="242" transform="rotate(180 242 0)">AT2G22430</text></g>
<g id="leaf-VvHB27" class="rd" transform="rotate(188.54)"><use href="#t" x="236"/><text class="l f" x="242" transform="rotate(180 242 0)">VvHB27</text></g>
<g id="leaf-AT4G40060" class="rd" transform="rotate(190.42)"><use href="#c" x="236"/><text class="l f" x="242" transform="rotate(180 242 0)">AT4G40060</text></g>
<g id="leaf-AT5G65310" class="rd" transform="rotate(192.30)"><use href="#c" x="236"/><text class="l f" x="242" transform="rotate(180 242 0)">AT5G65310</text></g>
<g id="leaf-VvHB04" class="rd" transform="rotate(194.18)"><use href="#t" x="236"/><text class="l f" x="242" transform="rotate(180 242 0)">VvHB04</text></g>
<g id="leaf-VvHB58" class="rd" transform="rotate(196.06)"><use href="#t" x="236"/><text class="l f" x="242" transform="rotate(180 242 0)">VvHB58</text></g>
<g id="leaf-AT3G01470" class="rd" transform="rotate(197.94)"><use href="#c" x="236"/><text class="l f" x="242" transform="rotate(180 242 0)">AT3G01470</text></g>
<g id="leaf-VvHB50" class="rd" transform="rotate(199.82)"><use href="#t" x="236"/><text class="l f" x="242" transform="rotate(180 242 0)">VvHB50</text></g>
<g id="leaf-AT1G27045" class="rd" transform="rotate(201.70)"><use href="#c" x="236"/><text class="l f" x="242" transform="rotate(180 242 0)">AT1G27045</text></g>
<g id="leaf-AT2G36610" class="rd" transform="rotate(203.58)"><use href="#c" x="236"/><text class="l f" x="242" transform="rotate(180 242 0)">AT2G36610</text></g>
<g id="leaf-AT5G03790" class="rd" transform="rotate(205.46)"><use href="#c" x="236"/><text class="l f" x="242" transform="rotate(180 242 0)">AT5G03790</text></g>
<g id="leaf-VvHB31" class="rd" transform="rotate(207.34)"><use href="#t" x="236"/><text class="l f" x="242" transform="rotate(180 242 0)">VvHB31</text></g>
<g id="leaf-AT1G26960" class="rd" transform="rotate(209.22)"><use href="#c" x="236"/><text class="l f" x="242" transform="rotate(180 242 0)">AT1G26960</text></g>
<g id="leaf-AT3G01220" class="rd" transform="rotate(211.10)"><use href="#c" x="236"/><text class="l f" x="242" transform="rotate(180 242 0)">AT3G01220</text></g>
<g id="leaf-AT5G15150" class="rd" transform="rotate(212.98)"><use href="#c" x="236"/><text class="l f" x="242" transform="rotate(180 242 0)">AT5G15150</text></g>
<g id="leaf-VvHB51" class="rd" transform="rotate(214.86)"><use href="#t" x="236"/><text class="l f" x="242" transform="rotate(180 242 0)">VvHB51</text></g>
<g id="leaf-AT1G69780" class="rd" transform="rotate(216.74)"><use href="#c" x="236"/><text class="l f" x="242" transform="rotate(180 242 0)">AT1G69780</text></g>
<g id="leaf-VvHB05" class="rd" transform="rotate(218.62)"><use href="#t" x="236"/><text class="l f" x="242" transform="rotate(180 242 0)">VvHB05</text></g>
<g id="leaf-AT1G70920" class="ye" transform="rotate(220.50)"><use href="#c" x="236"/><text class="l f" x="242" transform="rotate(180 242 0)">AT1G70920</text></g>
<g id="leaf-AT2G01430" class="ye" transform="rotate(222.38)"><use href="#c" x="236"/><text class="l f" x="242" transform="rotate(180 242 0)">AT2G01430</text></g>
<g id="leaf-VvHB01" class="ye" transform="rotate(224.26)"><use href="#t" x="236"/><text class="l f" x="242" transform="rotate(180 242 0)">VvHB01</text></g>
<g id="leaf-AT4G37790" class="ye" transform="rotate(226.14)"><use href="#c" x="236"/><text class="l f" x="242" transform="rotate(180 242 0)">AT4G37790</text></g>
<g id="leaf-VvHB72" class="ye" transform="rotate(228.02)"><use href="#t" x="236"/><text class="l f" x="242" transform="rotate(180 242 0)">VvHB72</text></g>
<g id="leaf-VvHB52" class="ye" transform="rotate(229.90)"><use href="#t" x="236"/><text class="l f" x="242" transform="rotate(180 242 0)">VvHB52</text></g>
<g id="leaf-AT3G60390" class="ye" transform="rotate(231.78)"><use href="#c" x="236"/><text class="l f" x="242" transform="rotate(180 242 0)">AT3G60390</text></g>
<g id="leaf-AT2G44910" class="ye" transform="rotate(233.66)"><use href="#c" x="236"/><text class="l f" x="242" transform="rotate(180 242 0)">AT2G44910</text></g>
<g id="leaf-AT4G16780" class="ye" transform="rotate(235.54)"><use href="#c" x="236"/><text class="l f" x="242" transform="rotate(180 242 0)">AT4G16780</text></g>
<g id="leaf-AT4G17460" class="ye" transform="rotate(237.42)"><use href="#c" x="236"/><text class="l f" x="242" transform="rotate(180 242 0)">AT4G17460</text></g>
<g id="leaf-AT5G47370" class="ye" transform="rotate(239.30)"><use href="#c" x="236"/><text class="l f" x="242" transform="rotate(180 242 0)">AT5G47370</text></g>
<g id="leaf-AT2G22800" class="ye" transform="rotate(241.18)"><use href="#c" x="236"/><text class="l f" x="242" transform="rotate(180 242 0)">AT2G22800</text></g>
<g id="leaf-VvHB64" class="ye" transform="rotate(243.06)"><use href="#t" x="236"/><text class="l f" x="242" transform="rotate(180 242 0)">VvHB64</text></g>
<g id="leaf-VvHB32" class="ye" transform="rotate(244.94)"><use href="#t" x="236"/><text class="l f" x="242" transform="rotate(180 242 0)">VvHB32</text></g>
<g id="leaf-VvHB48" class="ye" transform="rotate(246.82)"><use href="#t" x="236"/><text class="l f" x="242" transform="rotate(180 242 0)">VvHB48</text></g>
<g id="leaf-AT5G06710" class="ye" transform="rotate(248.70)"><use href="#c" x="236"/><text class="l f" x="242" transform="rotate(180 242 0)">AT5G06710</text></g>
<g id="leaf-VvHB73" class="ye" transform="rotate(250.58)"><use href="#t" x="236"/><text class="l f" x="242" transform="rotate(180 242 0)">VvHB73</text></g>
</g>
</svg>
